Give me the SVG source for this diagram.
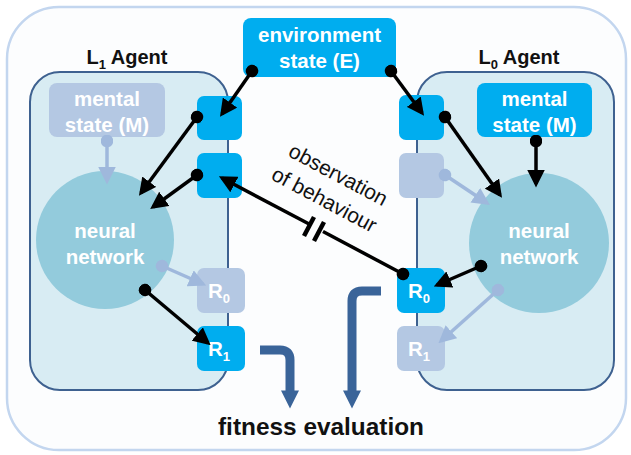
<svg xmlns="http://www.w3.org/2000/svg" width="631" height="455" viewBox="0 0 631 455">
<style>
  .lbl{font-family:"Liberation Sans",Arial,sans-serif;font-weight:bold;}
  .wt{fill:#ffffff;font-family:"Liberation Sans",Arial,sans-serif;font-weight:bold;font-size:20.5px;text-anchor:middle;}
  .bk{fill:#111111;font-family:"Liberation Sans",Arial,sans-serif;}
  .bright{fill:#00adef;}
  .faded{fill:#b4c8e3;}
  .agent{fill:#d8ecf3;stroke:#3e6190;stroke-width:2;}
  .nn{fill:#93cbdc;}
  .blk{stroke:#000;stroke-width:3.5;fill:none;marker-start:url(#dot);marker-end:url(#ah);}
  .fad{stroke:#9fb8dc;stroke-width:3.5;fill:none;marker-start:url(#fdot);marker-end:url(#fah);}
  .big{stroke:#3a6499;stroke-width:9;fill:none;marker-end:url(#bah);}
</style>
<defs>
  <marker id="ah" viewBox="0 0 10 10" refX="8" refY="5" markerWidth="5" markerHeight="5" orient="auto" markerUnits="strokeWidth"><path d="M0,0 L10,5 L0,10 z" fill="#000"/></marker>
  <marker id="dot" viewBox="0 0 10 10" refX="5" refY="5" markerWidth="3.6" markerHeight="3.6" orient="auto" markerUnits="strokeWidth"><circle cx="5" cy="5" r="5" fill="#000"/></marker>
  <marker id="fah" viewBox="0 0 10 10" refX="8" refY="5" markerWidth="5" markerHeight="5" orient="auto" markerUnits="strokeWidth"><path d="M0,0 L10,5 L0,10 z" fill="#9fb8dc"/></marker>
  <marker id="fdot" viewBox="0 0 10 10" refX="5" refY="5" markerWidth="3.6" markerHeight="3.6" orient="auto" markerUnits="strokeWidth"><circle cx="5" cy="5" r="5" fill="#9fb8dc"/></marker>
  <marker id="bah" viewBox="0 0 10 10" refX="3" refY="5" markerWidth="2.4" markerHeight="2" orient="auto" markerUnits="strokeWidth"><path d="M0,0 L10,5 L0,10 z" fill="#3a6499"/></marker>
</defs>

<g id="outer">
  <rect x="7" y="7" width="619" height="443" rx="52" ry="52" fill="#fcfdfe" stroke="#c3d6ef" stroke-width="2.5"/>
</g>

<g id="l1-agent">
  <rect class="agent" x="30" y="72" width="198" height="318" rx="30" ry="30"/>
  <text class="lbl" x="127" y="64" font-size="20" text-anchor="middle" fill="#111">L<tspan font-size="13" dy="5">1</tspan><tspan dy="-5"> Agent</tspan></text>
</g>
<g id="l0-agent">
  <rect class="agent" x="417" y="72" width="197" height="318" rx="30" ry="30"/>
  <text class="lbl" x="519" y="64" font-size="20" text-anchor="middle" fill="#111">L<tspan font-size="13" dy="5">0</tspan><tspan dy="-5"> Agent</tspan></text>
</g>

<g id="environment">
  <rect class="bright" x="243" y="18" width="153" height="59" rx="8"/>
  <text class="wt" x="319.5" y="42">environment</text>
  <text class="wt" x="319.5" y="68">state (E)</text>
</g>

<g id="l1-mental">
  <rect class="faded" x="49" y="83" width="116" height="54" rx="8"/>
  <text class="wt" x="107" y="106">mental</text>
  <text class="wt" x="107" y="132">state (M)</text>
</g>
<g id="l0-mental">
  <rect class="bright" x="477" y="83" width="115" height="54" rx="8"/>
  <text class="wt" x="534.5" y="106">mental</text>
  <text class="wt" x="534.5" y="132">state (M)</text>
</g>

<g id="l1-nn">
  <circle class="nn" cx="105" cy="240" r="69"/>
  <text class="wt" x="105" y="238">neural</text>
  <text class="wt" x="105" y="264">network</text>
</g>
<g id="l0-nn">
  <circle class="nn" cx="539" cy="243" r="70"/>
  <text class="wt" x="539" y="238">neural</text>
  <text class="wt" x="539" y="264">network</text>
</g>

<g id="l1-in-e"><rect class="bright" x="197" y="96" width="45" height="44" rx="7"/></g>
<g id="l1-in-obs"><rect class="bright" x="197" y="153" width="45" height="45" rx="7"/></g>
<g id="l1-r0">
  <rect class="faded" x="197" y="268" width="48" height="45" rx="7"/>
  <text class="wt" x="219" y="298" font-size="20">R<tspan font-size="13" dy="5">0</tspan></text>
</g>
<g id="l1-r1">
  <rect class="bright" x="197" y="326" width="48" height="45" rx="7"/>
  <text class="wt" x="219" y="356" font-size="20">R<tspan font-size="13" dy="5">1</tspan></text>
</g>

<g id="l0-in-e"><rect class="bright" x="399" y="95" width="45" height="45" rx="7"/></g>
<g id="l0-in-obs"><rect class="faded" x="399" y="153" width="45" height="45" rx="7"/></g>
<g id="l0-r0">
  <rect class="bright" x="397" y="268" width="48" height="45" rx="7"/>
  <text class="wt" x="419" y="298" font-size="20">R<tspan font-size="13" dy="5">0</tspan></text>
</g>
<g id="l0-r1">
  <rect class="faded" x="397" y="326" width="48" height="45" rx="7"/>
  <text class="wt" x="419" y="356" font-size="20">R<tspan font-size="13" dy="5">1</tspan></text>
</g>

<g id="connectors">
  <line class="fad" x1="107" y1="141" x2="107" y2="181"/>
  <line class="fad" x1="445" y1="175" x2="487" y2="203"/>
  <line class="fad" x1="162" y1="266" x2="203" y2="284"/>
  <line class="fad" x1="498" y1="290" x2="441" y2="341"/>

  <line class="blk" x1="252" y1="71" x2="222" y2="114"/>
  <line class="blk" x1="391" y1="71" x2="422" y2="113"/>
  <line class="blk" x1="197" y1="117" x2="141" y2="193"/>
  <line class="blk" x1="197" y1="175" x2="153" y2="207"/>
  <line class="blk" x1="445" y1="117" x2="500" y2="195"/>
  <line class="blk" x1="536" y1="141" x2="536" y2="184"/>
  <line class="blk" x1="145" y1="290" x2="208" y2="343"/>
  <line class="blk" x1="481" y1="266" x2="437" y2="285"/>

  <g id="observation">
    <line x1="403" y1="274" x2="323" y2="231.5" stroke="#000" stroke-width="3.5" marker-start="url(#dot)"/>
    <line x1="311" y1="225" x2="222" y2="178" stroke="#000" stroke-width="3.5" marker-end="url(#ah)"/>
    <line x1="304" y1="236" x2="314" y2="217" stroke="#000" stroke-width="4.5"/>
    <line x1="314" y1="241" x2="324" y2="222" stroke="#000" stroke-width="4.5"/>
    <text class="bk" font-size="21" text-anchor="middle" transform="translate(335,181) rotate(28)">observation</text>
    <text class="bk" font-size="21" text-anchor="middle" transform="translate(321,206) rotate(28)">of behaviour</text>
  </g>

  <path class="big" d="M260,350 H280 Q290,350 290,360 V396"/>
  <path class="big" d="M381,291 H362 Q352,291 352,301 V396"/>
</g>

<g id="fitness">
  <text class="bk" x="321" y="435" font-size="24" font-weight="bold" text-anchor="middle" textLength="206" lengthAdjust="spacingAndGlyphs">fitness evaluation</text>
</g>
</svg>
